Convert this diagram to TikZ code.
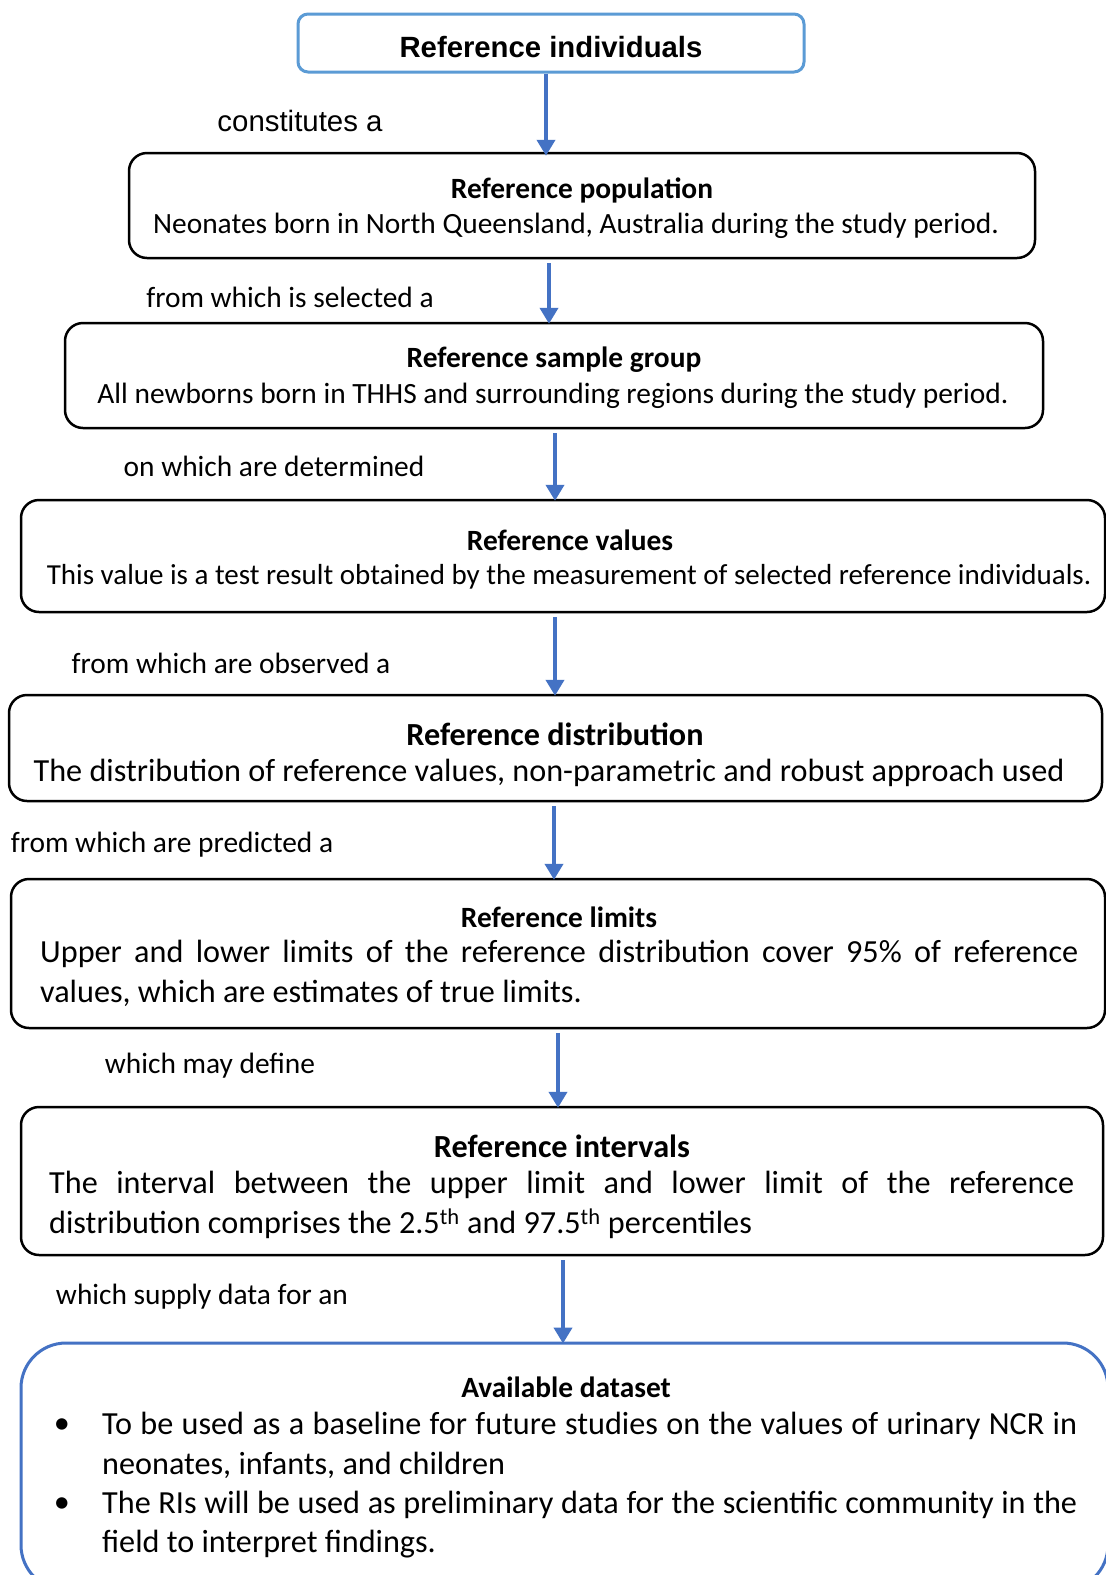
\documentclass[tikz,border=0pt]{standalone}
\usepackage{fontspec}
\setmainfont{Carlito}
\newfontfamily\arialf{Liberation Sans}
\usetikzlibrary{arrows.meta}
\definecolor{lblue}{HTML}{5B9BD5}
\definecolor{dblue}{HTML}{4472C4}
\begin{document}
\begin{tikzpicture}[x=1pt,y=-1pt,
  box/.style={draw=black, line width=2.5pt, rounded corners=18pt, inner sep=0pt},
  arr/.style={draw=dblue, line width=4pt, -{Triangle[width=18pt,length=16pt]}},
  lbl/.style={inner sep=0pt, font=\fontsize{29.4}{36}\selectfont},
  ttl/.style={inner sep=0pt, font=\fontsize{29.4}{36}\selectfont\bfseries},
  ttlB/.style={inner sep=0pt, font=\fontsize{32.2}{39}\selectfont\bfseries},
  bodyA/.style={inner sep=0pt, font=\fontsize{29.4}{36}\selectfont},
  bodyB/.style={inner sep=0pt, font=\fontsize{32.2}{39}\selectfont},
]
\useasboundingbox[fill=white] (0,0) rectangle (1106,1575);

% boxes
\node[draw=lblue, line width=3pt, rounded corners=10pt, minimum width=506pt, minimum height=58pt] (b1) at (551,43) {};
\node[box, minimum width=906pt, minimum height=105pt] (b2) at (582,205.5) {};
\node[box, minimum width=978pt, minimum height=105pt] (b3) at (554,375.5) {};
\node[box, minimum width=1084pt, minimum height=112pt] (b4) at (563,556) {};
\node[box, minimum width=1093pt, minimum height=106pt] (b5) at (555.5,748) {};
\node[box, minimum width=1094pt, minimum height=149pt] (b6) at (558,953.5) {};
\node[box, minimum width=1082pt, minimum height=148pt] (b7) at (562,1181) {};
\node[draw=dblue, line width=3pt, rounded corners=45pt, inner sep=0pt, minimum width=1087pt, minimum height=247pt] (b8) at (564.5,1466.5) {};

% arrow columns
\coordinate (c1) at (546,0);
\coordinate (c2) at (549,0);
\coordinate (c3) at (555,0);
\coordinate (c4) at (555,0);
\coordinate (c5) at (554,0);
\coordinate (c6) at (558,0);
\coordinate (c7) at (563,0);
\draw[arr] (c1 |- b1.south) -- ([yshift=-4pt]c1 |- b2.north);
\draw[arr] ([yshift=-4pt]c2 |- b2.south) -- ([yshift=-2pt]c2 |- b3.north);
\draw[arr] ([yshift=-4pt]c3 |- b3.south) -- ([yshift=-2pt]c3 |- b4.north);
\draw[arr] ([yshift=-4pt]c4 |- b4.south) -- ([yshift=-2pt]c4 |- b5.north);
\draw[arr] ([yshift=-4pt]c5 |- b5.south) -- ([yshift=-2pt]c5 |- b6.north);
\draw[arr] ([yshift=-4pt]c6 |- b6.south) -- ([yshift=-2pt]c6 |- b7.north);
\draw[arr] ([yshift=-4pt]c7 |- b7.south) -- ([yshift=-2pt]c7 |- b8.north);

% box 1
\node[inner sep=0pt, font=\arialf\bfseries\fontsize{29.3}{35}\selectfont] (t1) at (551,47) {Reference individuals};
% labels
\node[inner sep=0pt, font=\arialf\fontsize{29.4}{35}\selectfont] (l1) at (300,121) {constitutes a};
\node[lbl] (l2) at (290,297) {from which is selected a};
\node[lbl] (l3) at (274,466) {on which are determined};
\node[lbl] (l4) at (231,663) {from which are observed a};
\node[lbl] (l5) at (172,845) {from which are predicted a};
\node[lbl] (l6) at (210,1066) {which may define};
\node[lbl] (l7) at (202,1297) {which supply data for an};

% box 2
\node[ttl] (t2) at (582,190) {Reference population};
\node[bodyA] (d2) at (576,226) {Neonates born in North Queensland, Australia during the study period.};
% box 3
\node[ttl] (t3) at (554,360) {Reference sample group};
\node[bodyA] (d3) at (553,396) {All newborns born in THHS and surrounding regions during the study period.};
% box 4
\node[ttl] (t4) at (570,540) {Reference values};
\node[inner sep=0pt, font=\fontsize{29}{36}\selectfont] (d4) at (569,577) {This value is a test result obtained by the measurement of selected reference individuals.};
% box 5
\node[ttlB] (t5) at (555,734) {Reference distribution};
\node[bodyB] (d5) at (549,773) {The distribution of reference values, non-parametric and robust approach used};
% box 6
\node[ttl] (t6) at (559,917) {Reference limits};
\node[bodyB, anchor=west] (d6a) at (40,954) {\makebox[1038pt][s]{Upper and lower limits of the reference distribution cover 95\% of reference}};
\node[bodyB, anchor=west] (d6b) at (40,993) {values, which are estimates of true limits.};
% box 7
\node[ttlB] (t7) at (562,1146) {Reference intervals};
\node[bodyB, anchor=west] (d7a) at (49,1185) {\makebox[1025pt][s]{The interval between the upper limit and lower limit of the reference}};
\node[bodyB, anchor=west] (d7b) at (49,1224) {distribution comprises the 2.5\textsuperscript{th} and 97.5\textsuperscript{th} percentiles};
% box 8
\node[ttl] (t8) at (566,1387) {Available dataset};
\node[bodyB] (u1) at (62,1426) {\textbullet};
\node[bodyB, anchor=west] (d8a) at (102,1426) {\makebox[975pt][s]{To be used as a baseline for future studies on the values of urinary NCR in}};
\node[bodyB, anchor=west] (d8b) at (102,1465) {neonates, infants, and children};
\node[bodyB] (u2) at (62,1505) {\textbullet};
\node[bodyB, anchor=west] (d8c) at (102,1505) {\makebox[975pt][s]{The RIs will be used as preliminary data for the scientific community in the}};
\node[bodyB, anchor=west] (d8d) at (102,1544) {field to interpret findings.};
\end{tikzpicture}
\end{document}
